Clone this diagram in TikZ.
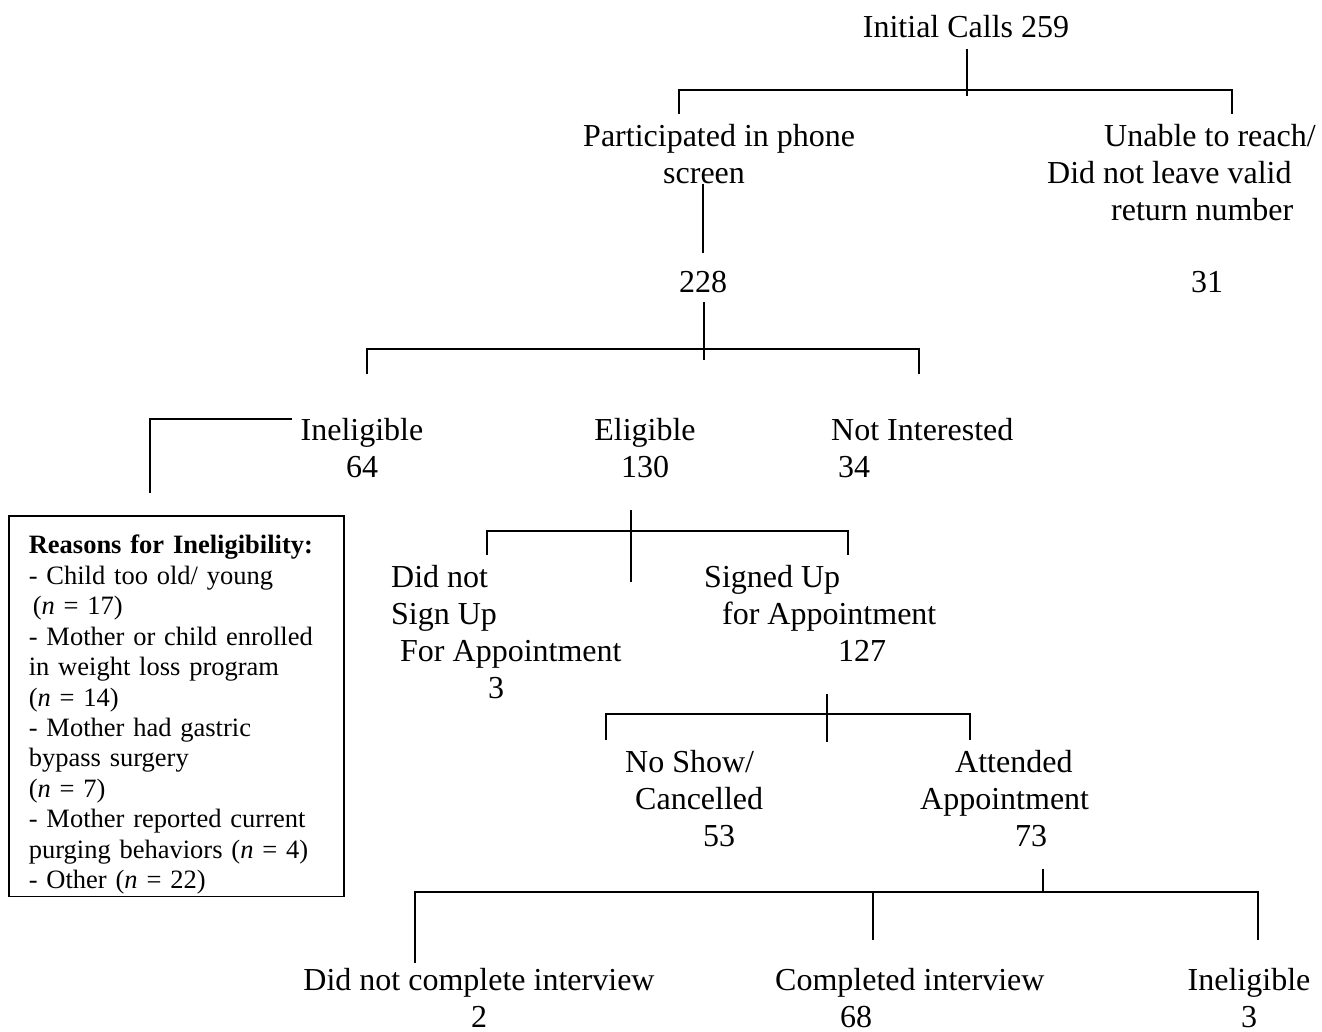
\documentclass[tikz,border=0pt]{standalone}
\usepackage{fontspec}
\setmainfont{Liberation Serif}
\usetikzlibrary{calc}
\tikzset{lbl/.style={inner sep=0pt,font=\fontsize{32}{37}\selectfont},lblL/.style={lbl,align=left,anchor=north west},lblC/.style={lbl,align=center,anchor=north},reasonbox/.style={draw,line width=1.6pt,anchor=north west,align=left,text width=295pt,inner xsep=20pt,inner ysep=2pt,font=\fontsize{26.5}{30.45}\selectfont},link/.style={line width=1.8pt}}

\begin{document}
\begin{tikzpicture}[x=1pt,y=-1pt]
\useasboundingbox (0,0) rectangle (1322,1032);
% nodes
\node[lblC] (init) at (966,15) {Initial Calls 259};
\node[lblL] (part) at (583,124) {Participated in phone\\\hspace*{80pt}screen};
\node[lblL] (unable) at (1047,124) {\hspace*{57pt}Unable to reach/\\Did not leave valid\\\hspace*{64pt}return number};
\node[lblC] (n228) at (703,271) {228};
\node[lblC] (n31) at (1207,271) {31};
\node[lblC] (inel) at (362,418) {Ineligible\\64};
\node[lblC] (elig) at (645,418) {Eligible\\130};
\node[lblL] (notint) at (831,418) {Not Interested\\\hspace*{7pt}34};
\node[reasonbox] (reasons) at (8,515) {\rule{0pt}{36pt}\textbf{Reasons for Ineligibility:}\\- Child too old/ young\\\hspace*{4pt}(\textit{n} = 17)\\- Mother or child enrolled\\in weight loss program\\(\textit{n} = 14)\\- Mother had gastric\\bypass surgery\\(\textit{n} = 7)\\- Mother reported current\\purging behaviors (\textit{n} = 4)\\- Other (\textit{n} = 22)};
\node[lblL] (nosign) at (391,565) {Did not\\Sign Up\\\hspace*{9pt}For Appointment\\\hspace*{97pt}3};
\node[lblL] (signed) at (704,565) {Signed Up\\\hspace*{18pt}for Appointment\\\hspace*{134pt}127};
\node[lblL] (noshow) at (625,750) {No Show/\\\hspace*{10pt}Cancelled\\\hspace*{78pt}53};
\node[lblL] (attended) at (920,750) {\hspace*{35pt}Attended\\Appointment\\\hspace*{95pt}73};
\node[lblC] (nocomp) at (479,968) {Did not complete interview\\2};
\node[lblL] (comp) at (775,968) {Completed interview\\\hspace*{65pt}68};
\node[lblC] (inel2) at (1249,968) {Ineligible\\3};
% junctions and free ends
\coordinate (j1) at (967,90); \coordinate (j1a) at (679,114); \coordinate (j1b) at (1232,114);
\coordinate (j2) at (704,349); \coordinate (j2a) at (367,374); \coordinate (j2b) at (919,374);
\coordinate (j3) at (150,493);
\coordinate (j4) at (631,531); \coordinate (j4a) at (487,555); \coordinate (j4b) at (848,555);
\coordinate (j5) at (827,714); \coordinate (j5a) at (606,740); \coordinate (j5b) at (970,740);
\coordinate (j6) at (1043,892); \coordinate (j6a) at (415,963); \coordinate (j6b) at (873,940); \coordinate (j6c) at (1258,940);
% connectors
\draw[link] (j1 |- init.south) ++(0,11) -- ([yshift=-6pt]j1);
\draw[link] (j1a) |- (j1) -| (j1b);
\draw[link] (n228.north |- part.south) -- ([yshift=18pt]n228.north);
\draw[link] (j2 |- n228.south) ++(0,9) -- ([yshift=-11pt]j2);
\draw[link] (j2a) |- (j2) -| (j2b);
\draw[link] ([xshift=-8pt,yshift=-1pt]inel.north west) -| (j3);
\draw[link] (j4 |- elig.south) ++(0,32) -- ([yshift=-51pt]j4);
\draw[link] (j4a) |- (j4) -| (j4b);
\draw[link] (j5 |- signed.south) ++(0,32) -- ([yshift=-28pt]j5);
\draw[link] (j5a) |- (j5) -| (j5b);
\draw[link] (j6 |- attended.south) ++(0,22) -- (j6);
\draw[link] (j6a) |- (j6) -| (j6c);
\draw[link] (j6b) -- (j6 -| j6b);
\end{tikzpicture}
\end{document}
